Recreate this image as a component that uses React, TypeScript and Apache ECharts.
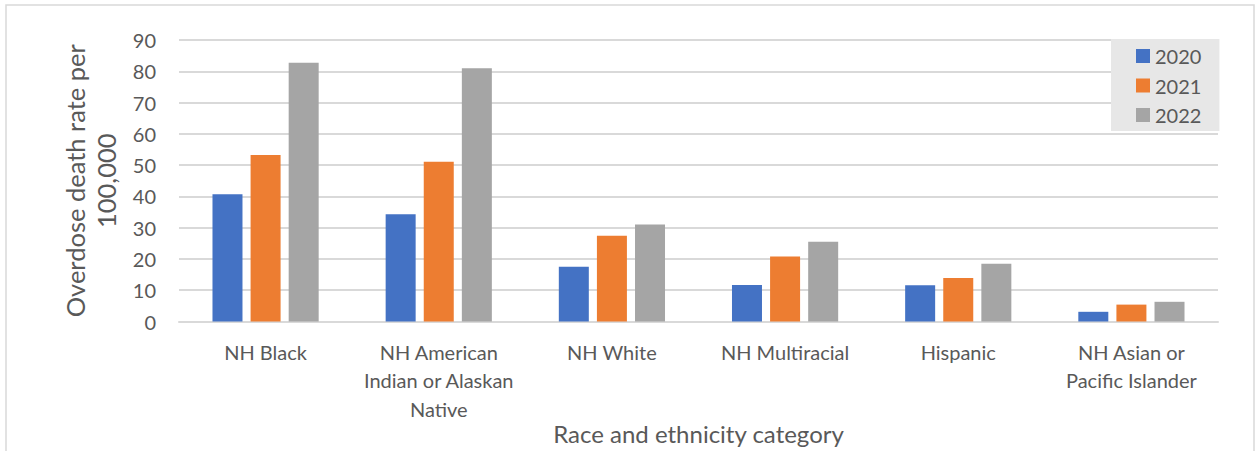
import React, { useEffect, useRef } from "react";
import * as echarts from "echarts";

const categories = [
  "NH Black",
  "NH American Indian or Alaskan Native",
  "NH White",
  "NH Multiracial",
  "Hispanic",
  "NH Asian or Pacific Islander",
];
const wrappedLabels: Record<string, string> = {
  "NH American Indian or Alaskan Native": "NH American\nIndian or Alaskan\nNative",
  "NH Asian or Pacific Islander": "NH Asian or\nPacific Islander",
};
const years = ["2020", "2021", "2022"];
const values2020 = [40.7, 34.3, 17.5, 11.7, 11.6, 3.1];
const values2021 = [53.2, 51.1, 27.4, 20.8, 13.9, 5.4];
const values2022 = [82.7, 81.0, 31.0, 25.5, 18.5, 6.3];
const colors = ["#4472C4", "#ED7D31", "#A5A5A5"];

const FONT = "Lato, 'Noto Sans', sans-serif";
const TXT = "#595959";

export default function App() {
  const ref = useRef<HTMLDivElement>(null);
  useEffect(() => {
    if (!ref.current) return;
    const chart = echarts.init(ref.current, undefined, { renderer: "svg" });
    const seriesValues = [values2020, values2021, values2022];
    chart.setOption({
      animation: false,
      textStyle: { fontFamily: FONT },
      graphic: [
        {
          type: "rect",
          shape: { x: 6, y: 5, width: 1248, height: 470 },
          style: { fill: "none", stroke: "#d9d9d9", lineWidth: 1.5 },
          silent: true,
          z: -10,
        },
      ],
      grid: {
        left: 179,
        right: 37,
        top: 40,
        bottom: 129.5,
        containLabel: false,
        outerBoundsMode: "none",
      },
      legend: {
        orient: "vertical",
        left: 1111,
        top: 39,
        width: 108,
        backgroundColor: "#e7e7e7",
        padding: [6.5, 18, 5.5, 25],
        itemWidth: 14,
        itemHeight: 14,
        itemGap: 8.5,
        icon: "rect",
        data: years,
        textStyle: { color: TXT, fontSize: 20, fontFamily: FONT, lineHeight: 21 },
      },
      xAxis: {
        type: "category",
        data: categories,
        name: "Race and ethnicity category",
        nameLocation: "middle",
        nameGap: 100,
        nameMoveOverlap: false,
        nameTextStyle: { color: TXT, fontSize: 24, fontFamily: FONT },
        axisLine: { show: true, lineStyle: { color: "#d9d9d9", width: 2 } },
        axisTick: { show: false },
        axisLabel: {
          color: TXT,
          fontSize: 20,
          fontFamily: FONT,
          lineHeight: 28.5,
          margin: 16,
          interval: 0,
          formatter: (v: string) => wrappedLabels[v] ?? v,
        },
      },
      yAxis: {
        type: "value",
        min: 0,
        max: 90,
        interval: 10,
        name: "Overdose death rate per\n100,000",
        nameLocation: "middle",
        nameGap: 58,
        nameMoveOverlap: false,
        nameTextStyle: { color: TXT, fontSize: 25.5, fontFamily: FONT, lineHeight: 31, align: "center" },
        axisLine: { show: false },
        axisTick: { show: false },
        axisLabel: { color: TXT, fontSize: 20, fontFamily: FONT, margin: 23 },
        splitLine: { lineStyle: { color: "#d9d9d9", width: 2 } },
      },
      series: years.map((y, i) => ({
        name: y,
        type: "bar",
        data: seriesValues[i],
        barWidth: 30,
        barGap: "27%",
        itemStyle: { color: colors[i] },
      })),
    });
    return () => chart.dispose();
  }, []);
  return (
    <div
      ref={ref}
      style={{ position: "absolute", left: 0, top: 0, width: 1255, height: 451, background: "#fff" }}
    />
  );
}
